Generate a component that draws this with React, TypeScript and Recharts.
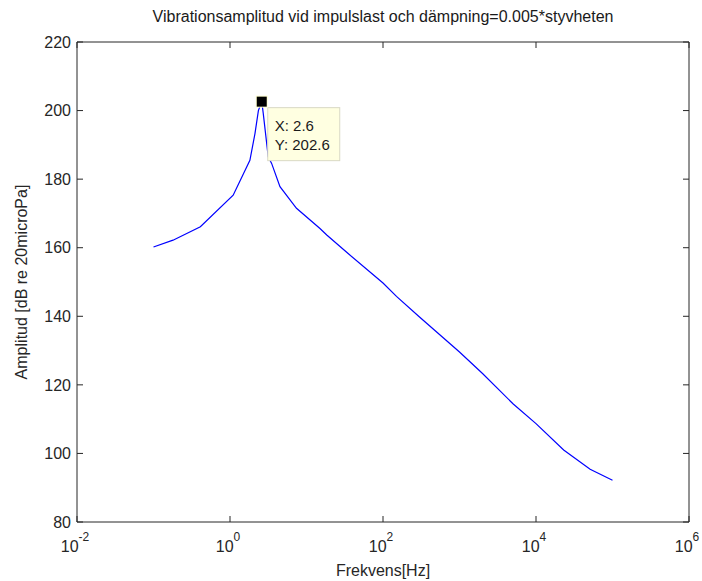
import { LineChart, Line, XAxis, YAxis, ReferenceDot, Label } from "recharts";

const frequencies = [
  0.1, 0.18, 0.41, 1.1, 1.82, 2.12, 2.35, 2.6, 2.72, 3.16, 3.5, 4.5, 7.4, 15,
  18.4, 35, 100, 150, 300, 1000, 2000, 5000, 10000, 23000, 51000, 100000,
];
const amplitudes = [
  160.2, 162.2, 166.1, 175.3, 185.5, 193.3, 200, 202.6, 199.2, 186.5, 184.6,
  177.8, 171.5, 165.6, 163.7, 158.3, 149.7, 145.8, 139.8, 129.6, 123.3, 114.5,
  108.7, 101, 95.4, 92.2,
];
const xTicks = [0.01, 1, 100, 10000, 1000000];
const yTicks = [80, 100, 120, 140, 160, 180, 200, 220];
const peak = { x: 2.6, y: 202.6 };

const data = frequencies.map((f, i) => ({ f, amp: amplitudes[i] }));

const FONT = "'Liberation Sans', Arial, sans-serif";
const AXIS = "#262626";
const TICK = 6;

const BottomTick = (props: any) => {
  const { x, y, payload } = props;
  const exp = Math.round(Math.log10(payload.value));
  return (
    <g>
      <line x1={x} y1={y} x2={x} y2={y - TICK} stroke={AXIS} />
      <text x={x - 2} y={y + 30} textAnchor="middle" fontSize={16} fill="#262626" fontFamily={FONT}>
        10
        <tspan dy={-11} fontSize={12}>
          {exp}
        </tspan>
      </text>
    </g>
  );
};

const TopTick = (props: any) => {
  const { x, y } = props;
  return <line x1={x} y1={y} x2={x} y2={y + TICK} stroke={AXIS} />;
};

const LeftTick = (props: any) => {
  const { x, y, payload } = props;
  return (
    <g>
      <line x1={x} y1={y} x2={x + TICK} y2={y} stroke={AXIS} />
      <text x={x - 6} y={y} dy="0.36em" textAnchor="end" fontSize={16} fill="#262626" fontFamily={FONT}>
        {payload.value}
      </text>
    </g>
  );
};

const RightTick = (props: any) => {
  const { x, y } = props;
  return <line x1={x} y1={y} x2={x - TICK} y2={y} stroke={AXIS} />;
};

// MATLAB-style data cursor: black square + pale yellow box
const DataTip = (props: any) => {
  const { cx, cy } = props;
  return (
    <g>
      <rect x={cx + 6} y={cy + 6} width={72} height={53} fill="#ffffe1" stroke="#d9d9c4" />
      <text x={cx + 13} y={cy + 29} fontSize={15} fill="#1a1a1a" fontFamily={FONT}>
        X: {peak.x}
      </text>
      <text x={cx + 13} y={cy + 48} fontSize={15} fill="#1a1a1a" fontFamily={FONT}>
        Y: {peak.y}
      </text>
      <rect x={cx - 6} y={cy - 6} width={12} height={12} fill="#ffffd0" />
      <rect x={cx - 5} y={cy - 5} width={10} height={10} fill="#000" />
    </g>
  );
};

export default function App() {
  return (
    <div style={{ position: "absolute", left: 0, top: 0, background: "#fff" }}>
      <LineChart width={702} height={581} data={data} margin={{ top: 0, right: 0, left: 0, bottom: 0 }}>
        <XAxis
          dataKey="f"
          type="number"
          scale="log"
          domain={[0.01, 1000000]}
          allowDataOverflow
          ticks={xTicks}
          interval={0}
          height={59}
          tickSize={0}
          tickMargin={0}
          tickLine={false}
          axisLine={{ stroke: AXIS }}
          tick={<BottomTick />}
        >
          <Label
            content={(p: any) => {
              const { x, y, width } = p.viewBox;
              return (
                <text x={x + width / 2} y={y + 54} textAnchor="middle" fontSize={16} fill="#262626" fontFamily={FONT}>
                  Frekvens[Hz]
                </text>
              );
            }}
          />
        </XAxis>
        <XAxis
          xAxisId="top"
          orientation="top"
          dataKey="f"
          type="number"
          scale="log"
          domain={[0.01, 1000000]}
          allowDataOverflow
          ticks={xTicks}
          interval={0}
          height={42}
          tickSize={0}
          tickMargin={0}
          tickLine={false}
          axisLine={{ stroke: AXIS }}
          tick={<TopTick />}
        >
          <Label
            content={(p: any) => {
              const { x, width } = p.viewBox;
              return (
                <text x={x + width / 2} y={22} textAnchor="middle" fontSize={16} fill="#1a1a1a" fontFamily={FONT}>
                  Vibrationsamplitud vid impulslast och dämpning=0.005*styvheten
                </text>
              );
            }}
          />
        </XAxis>
        <YAxis
          type="number"
          domain={[80, 220]}
          allowDataOverflow
          ticks={yTicks}
          interval={0}
          width={77}
          tickSize={0}
          tickMargin={0}
          tickLine={false}
          axisLine={{ stroke: AXIS }}
          tick={<LeftTick />}
        >
          <Label
            content={(p: any) => {
              const { y, height } = p.viewBox;
              const cx = 21;
              const cy = y + height / 2;
              return (
                <text
                  x={cx}
                  y={cy}
                  dy="0.36em"
                  textAnchor="middle"
                  transform={`rotate(-90 ${cx} ${cy})`}
                  fontSize={16}
                  fill="#262626"
                  fontFamily={FONT}
                >
                  Amplitud [dB re 20microPa]
                </text>
              );
            }}
          />
        </YAxis>
        <YAxis
          yAxisId="right"
          orientation="right"
          type="number"
          domain={[80, 220]}
          allowDataOverflow
          ticks={yTicks}
          interval={0}
          width={13}
          tickSize={0}
          tickMargin={0}
          tickLine={false}
          axisLine={{ stroke: AXIS }}
          tick={<RightTick />}
        />
        <Line
          type="linear"
          dataKey="amp"
          stroke="#0000ff"
          strokeWidth={1.2}
          dot={false}
          isAnimationActive={false}
        />
        <ReferenceDot x={peak.x} y={peak.y} ifOverflow="visible" shape={<DataTip />} />
      </LineChart>
    </div>
  );
}
